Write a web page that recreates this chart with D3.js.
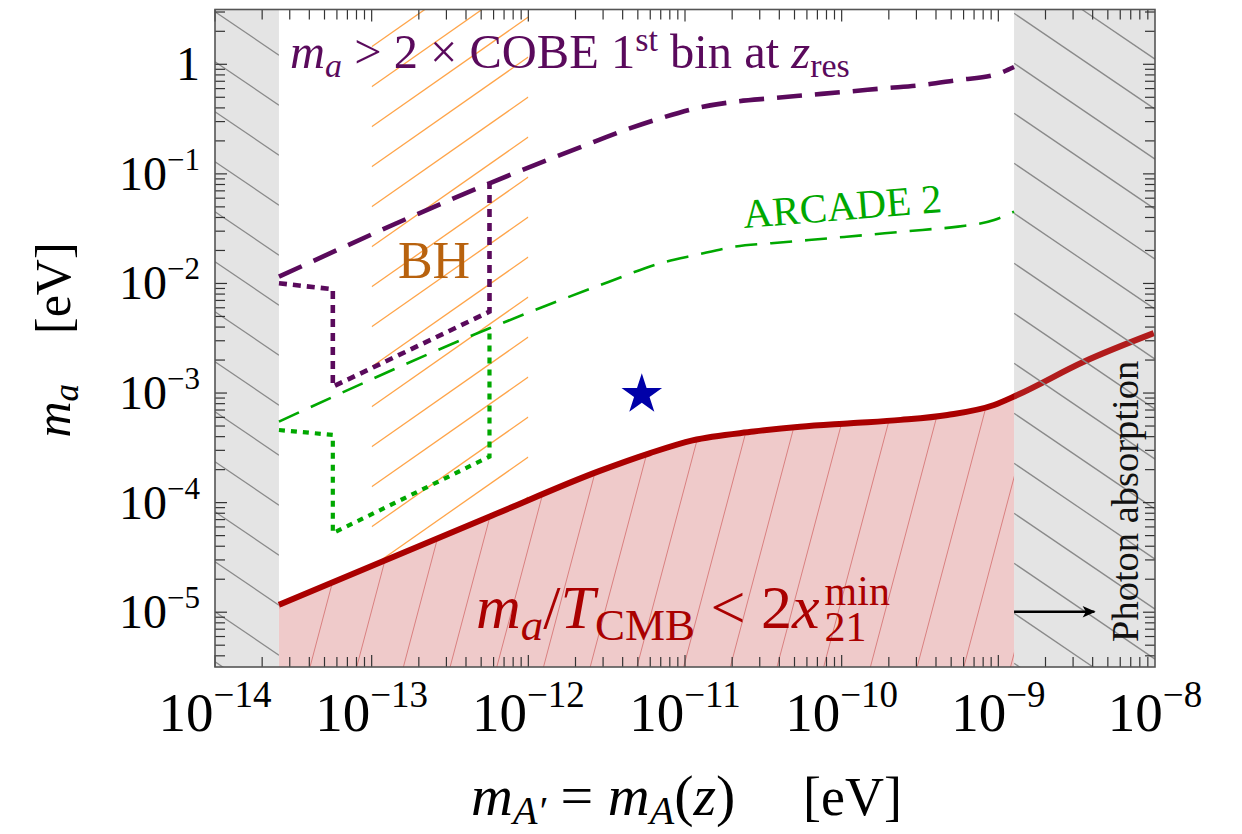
<!DOCTYPE html>
<html><head><meta charset="utf-8">
<script src="https://cdn.jsdelivr.net/npm/d3@7"></script>
<style>
body{margin:0;background:#fff}
svg{display:block}
text{font-family:"Liberation Serif","Times New Roman",serif}
</style>
</head><body>
<svg id="c" width="1242" height="834"></svg>
<script>
// ---------------- data ----------------
const xTickExps = [-14, -13, -12, -11, -10, -9, -8];
const yTickExps = [0, -1, -2, -3, -4, -5];
const excludedLowX = 2.56e-14;   // left excluded band edge
const excludedHighX = 1.26e-9;   // photon absorption edge
const bhRangeX = [1e-13, 1e-12]; // BH hatched band

const cobeX = [2.56e-14, 5.65e-13, 2.83e-12, 3.89e-12, 6.93e-12, 1.175e-11, 2.10e-11, 3.56e-11, 6.19e-11, 1.076e-10, 1.88e-10, 3.27e-10, 5.53e-10, 9.40e-10, 1.26e-9];
const cobeY = [1.153e-2, 8.20e-2, 0.204, 0.243, 0.321, 0.397, 0.456, 0.490, 0.525, 0.562, 0.604, 0.647, 0.719, 0.798, 0.944];

const cobeBhX = [2.56e-14, 5.65e-14, 5.65e-14, 5.65e-13, 5.65e-13];
const cobeBhY = [1.005e-2, 8.85e-3, 1.143e-3, 5.53e-3, 8.20e-2];

const arcadeX = [2.56e-14, 5.65e-13, 3.28e-12, 6.93e-12, 1.175e-11, 2.10e-11, 3.56e-11, 6.17e-11, 1.076e-10, 1.88e-10, 3.27e-10, 5.53e-10, 9.40e-10, 1.26e-9];
const arcadeY = [5.48e-4, 3.90e-3, 1.037e-2, 1.528e-2, 1.82e-2, 2.17e-2, 2.33e-2, 2.49e-2, 2.67e-2, 2.87e-2, 3.08e-2, 3.30e-2, 3.79e-2, 4.52e-2];

const arcadeBhX = [2.56e-14, 5.65e-14, 5.65e-14, 5.65e-13, 5.65e-13];
const arcadeBhY = [4.60e-4, 4.15e-4, 5.26e-5, 2.63e-4, 3.90e-3];

const cmbX = [2.56e-14, 5.93e-13, 2.83e-12, 5.93e-12, 1.117e-11, 2.74e-11, 5.43e-11, 1.138e-10, 2.38e-10, 4.73e-10, 9.40e-10, 1.32e-9, 3.51e-9, 9.82e-9];
const cmbY = [1.167e-5, 7.67e-5, 1.94e-4, 2.82e-4, 3.70e-4, 4.45e-4, 4.93e-4, 5.30e-4, 5.69e-4, 6.31e-4, 7.78e-4, 9.59e-4, 1.93e-3, 3.52e-3];

const starX = [5.3e-12];
const starY = [9.7e-4];

const arrowX = [1.26e-9, 4.1e-9];
const arrowY = [1.01e-5, 1.01e-5];

// ---------------- layout ----------------
const L = 215, R = 1155, T = 9.5, B = 667;
const x = d3.scaleLog().domain([1e-14, 1e-8]).range([L, R]);
const y = d3.scaleLog().domain([Math.pow(10, -5.5), Math.pow(10, 0.5)]).range([B, T]);
const zip = (a, b) => a.map((v, i) => [v, b[i]]);

const svg = d3.select("#c");
const defs = svg.append("defs");
function clipRect(id, x0, y0, x1, y1) {
  defs.append("clipPath").attr("id", id).append("rect")
    .attr("x", x0).attr("y", y0).attr("width", x1 - x0).attr("height", y1 - y0);
}
function clipPathD(id, d) {
  defs.append("clipPath").attr("id", id).append("path").attr("d", d);
}

const lineSmooth = d3.line().x(d => x(d[0])).y(d => y(d[1])).curve(d3.curveMonotoneX);
const lineStraight = d3.line().x(d => x(d[0])).y(d => y(d[1]));
const cmbPts = zip(cmbX, cmbY);

function hatchH(g, x0, x1, y0, y1, ax, ay, slope, sp, color, w) {
  const span = Math.abs(slope) * (x1 - x0) + sp;
  const kMin = Math.floor((y0 - span - ay) / sp), kMax = Math.ceil((y1 + span - ay) / sp);
  for (let k = kMin; k <= kMax; k++) {
    const yy = ay + k * sp;
    g.append("line").attr("x1", x0).attr("y1", yy + slope * (x0 - ax))
      .attr("x2", x1).attr("y2", yy + slope * (x1 - ax))
      .attr("stroke", color).attr("stroke-width", w);
  }
}
function hatchV(g, x0, x1, y0, y1, ax, ay, dxPerUp, sp, color, w) {
  const span = Math.abs(dxPerUp) * (y1 - y0) + sp;
  const kMin = Math.floor((x0 - span - ax) / sp), kMax = Math.ceil((x1 + span - ax) / sp);
  for (let k = kMin; k <= kMax; k++) {
    const xx = ax + k * sp;
    g.append("line").attr("x1", xx + dxPerUp * (ay - y1)).attr("y1", y1)
      .attr("x2", xx + dxPerUp * (ay - y0)).attr("y2", y0)
      .attr("stroke", color).attr("stroke-width", w);
  }
}

// ---------------- excluded gray bands ----------------
const xl = x(excludedLowX), xh = x(excludedHighX);
clipRect("clipLeft", L, T, xl, B);
clipRect("clipRight", xh, T, R, B);
svg.append("rect").attr("x", L).attr("y", T).attr("width", xl - L).attr("height", B - T).attr("fill", "#e4e4e4");
svg.append("rect").attr("x", xh).attr("y", T).attr("width", R - xh).attr("height", B - T).attr("fill", "#e4e4e4");
hatchH(svg.append("g").attr("clip-path", "url(#clipLeft)"), L, xl, T, B, L, 11.7, 0.68, 50, "#8a8a8a", 1.3);

// ---------------- pink CMB region ----------------
clipRect("clipMid", xl, T, xh, B);
const areaBelow = d3.area().x(d => x(d[0])).y0(B).y1(d => y(d[1])).curve(d3.curveMonotoneX);
const areaAbove = d3.area().x(d => x(d[0])).y0(T).y1(d => y(d[1])).curve(d3.curveMonotoneX);
clipPathD("clipBelow", areaBelow(cmbPts));
clipPathD("clipAbove", areaAbove(cmbPts));
const gMid = svg.append("g").attr("clip-path", "url(#clipMid)");
gMid.append("path").attr("d", areaBelow(cmbPts)).attr("fill", "#efcaca");
hatchV(gMid.append("g").attr("clip-path", "url(#clipBelow)"), xl, xh, T, B, 310, B, 0.265, 46.7, "#d98080", 1.0);

// ---------------- BH orange hatch ----------------
clipRect("clipBH", x(bhRangeX[0]), T, x(bhRangeX[1]), B);
const gBH = svg.append("g").attr("clip-path", "url(#clipBH)").append("g").attr("clip-path", "url(#clipAbove)");
hatchH(gBH, x(bhRangeX[0]), x(bhRangeX[1]), T, B, x(bhRangeX[0]), 6.7, -0.70, 40, "#ffa54a", 1.3);

// ---------------- curves ----------------
svg.append("path").attr("d", lineSmooth(zip(arcadeX, arcadeY))).attr("fill", "none")
  .attr("stroke", "#00a800").attr("stroke-width", 2.6).attr("stroke-dasharray", "22 13");
svg.append("path").attr("d", lineStraight(zip(arcadeBhX, arcadeBhY))).attr("fill", "none")
  .attr("stroke", "#00a800").attr("stroke-width", 4.2).attr("stroke-dasharray", "6 6");
svg.append("path").attr("d", lineSmooth(zip(cobeX, cobeY))).attr("fill", "none")
  .attr("stroke", "#5a0a5c").attr("stroke-width", 4.6).attr("stroke-dasharray", "25 13");
svg.append("path").attr("d", lineStraight(zip(cobeBhX, cobeBhY))).attr("fill", "none")
  .attr("stroke", "#5a0a5c").attr("stroke-width", 4.6).attr("stroke-dasharray", "8 6");
svg.append("path").attr("d", lineSmooth(cmbPts)).attr("fill", "none")
  .attr("stroke", "#aa0000").attr("stroke-width", 6).attr("stroke-linejoin", "round");

// right band hatch drawn over the red line
const gR = svg.append("g").attr("clip-path", "url(#clipRight)");
gR.append("rect").attr("x", xh).attr("y", T).attr("width", R - xh).attr("height", B - T).attr("fill", "#e4e4e4").attr("opacity", 0.12);
hatchH(gR, xh, R, T, B, xh, 13.3, 0.68, 50, "#8a8a8a", 1.3);

// star
svg.append("g").selectAll("path").data(zip(starX, starY)).join("path")
  .attr("transform", d => `translate(${x(d[0])},${y(d[1])})`)
  .attr("d", d3.symbol(d3.symbolStar).size(510)).attr("fill", "#0000a8");

// arrow
defs.append("marker").attr("id", "ah").attr("viewBox", "0 0 10 10").attr("refX", 9).attr("refY", 5)
  .attr("markerWidth", 8).attr("markerHeight", 5).attr("orient", "auto").attr("markerUnits", "strokeWidth")
  .append("path").attr("d", "M0,0.5 L10,5 L0,9.5 L2.5,5 Z").attr("fill", "#000");
svg.append("line").attr("x1", x(arrowX[0])).attr("y1", y(arrowY[0])).attr("x2", x(arrowX[1])).attr("y2", y(arrowY[1]))
  .attr("stroke", "#000").attr("stroke-width", 2.6).attr("marker-end", "url(#ah)");

// ---------------- frame & ticks ----------------
const gAx = svg.append("g");
const xMinor = [], yMinor = [];
for (let e = -14; e < -8; e++) for (let m = 1; m <= 9; m++) xMinor.push([m * Math.pow(10, e), m === 1]);
for (let e = -6; e <= 0; e++) for (let m = 1; m <= 9; m++) {
  const v = m * Math.pow(10, e);
  if (Math.log10(v) >= -5.5 && Math.log10(v) <= 0.5) yMinor.push([v, m === 1]);
}
xMinor.forEach(([v, maj]) => {
  const px = x(v), len = maj ? 12 : 10;
  gAx.append("line").attr("x1", px).attr("x2", px).attr("y1", B).attr("y2", B - len).attr("stroke", "#333").attr("stroke-width", 1.2);
  gAx.append("line").attr("x1", px).attr("x2", px).attr("y1", T).attr("y2", T + len).attr("stroke", "#333").attr("stroke-width", 1.2);
});
yMinor.forEach(([v, maj]) => {
  const py = y(v), len = maj ? 12 : 10;
  gAx.append("line").attr("y1", py).attr("y2", py).attr("x1", L).attr("x2", L + len).attr("stroke", "#333").attr("stroke-width", 1.2);
  gAx.append("line").attr("y1", py).attr("y2", py).attr("x1", R).attr("x2", R - len).attr("stroke", "#333").attr("stroke-width", 1.2);
});
gAx.append("rect").attr("x", L).attr("y", T).attr("width", R - L).attr("height", B - T)
  .attr("fill", "none").attr("stroke", "#555").attr("stroke-width", 1.6);

// tick labels
xTickExps.forEach(e => {
  const t = svg.append("text").attr("x", x(Math.pow(10, e))).attr("y", 731).attr("text-anchor", "middle")
    .attr("font-size", 55).attr("fill", "#000");
  t.append("tspan").text("10");
  t.append("tspan").attr("font-size", 37).attr("dy", -24).text("\u2212" + Math.abs(e));
});
yTickExps.forEach(e => {
  const t = svg.append("text").attr("x", 200).attr("y", y(Math.pow(10, e)) + 16).attr("text-anchor", "end")
    .attr("font-size", 48).attr("fill", "#000");
  if (e === 0) { t.text("1"); return; }
  t.append("tspan").text("10");
  t.append("tspan").attr("font-size", 31).attr("dy", -20).text("\u2212" + Math.abs(e));
});

// axis titles
const xt = svg.append("text").attr("x", 471).attr("y", 815).attr("font-size", 58).attr("fill", "#000");
xt.append("tspan").attr("font-style", "italic").text("m");
xt.append("tspan").attr("font-style", "italic").attr("font-size", 40).attr("dy", 9).text("A\u2032");
xt.append("tspan").attr("dy", -9).text(" = ");
xt.append("tspan").attr("font-style", "italic").text("m");
xt.append("tspan").attr("font-style", "italic").attr("font-size", 40).attr("dy", 9).text("A");
xt.append("tspan").attr("dy", -9).text("(");
xt.append("tspan").attr("font-style", "italic").text("z");
xt.append("tspan").text(")");
svg.append("text").attr("x", 803).attr("y", 815).attr("font-size", 54).attr("fill", "#000").text("[eV]");

const yt = svg.append("text").attr("transform", "translate(70,340) rotate(-90)").attr("text-anchor", "middle")
  .attr("font-size", 50).attr("fill", "#000");
yt.append("tspan").attr("font-style", "italic").text("m");
yt.append("tspan").attr("font-style", "italic").attr("font-size", 35).attr("dy", 8).text("a");
yt.append("tspan").attr("dy", -8).text("\u2002\u2002[eV]");

// ---------------- annotations ----------------
const pc = "#5a0a5c";
const t1 = svg.append("text").attr("x", 290).attr("y", 68).attr("font-size", 48.5).attr("fill", pc);
t1.append("tspan").attr("font-style", "italic").text("m");
t1.append("tspan").attr("font-style", "italic").attr("font-size", 34).attr("dy", 9).text("a");
t1.append("tspan").attr("dy", -9).text(" > 2 \u00d7 COBE 1");
t1.append("tspan").attr("font-size", 34).attr("dy", -17).text("st");
t1.append("tspan").attr("dy", 17).text(" bin at ");
t1.append("tspan").attr("font-style", "italic").text("z");
t1.append("tspan").attr("font-size", 34).attr("dy", 9).text("res");

svg.append("text").attr("x", 434).attr("y", 278).attr("text-anchor", "middle").attr("font-size", 52)
  .attr("fill", "#b8620e").text("BH");

svg.append("text").attr("transform", "translate(744,228) rotate(-4.6)").attr("font-size", 41)
  .attr("fill", "#00a800").text("ARCADE 2");

const rc = "#aa0000";
const t2 = svg.append("text").attr("x", 476).attr("y", 628).attr("font-size", 62).attr("fill", rc);
t2.append("tspan").attr("font-style", "italic").text("m");
t2.append("tspan").attr("font-style", "italic").attr("font-size", 45).attr("dy", 12).text("a");
t2.append("tspan").attr("dy", -12).text("/");
t2.append("tspan").attr("font-style", "italic").text("T");
t2.append("tspan").attr("font-size", 45).attr("dy", 12).text("CMB");
t2.append("tspan").attr("dy", -12).text(" < 2");
t2.append("tspan").attr("font-style", "italic").text("x");
const w2 = t2.node().getComputedTextLength();
svg.append("text").attr("x", 476 + w2 + 5).attr("y", 641).attr("font-size", 42).attr("fill", rc).text("21");
svg.append("text").attr("x", 476 + w2 + 5).attr("y", 605).attr("font-size", 42).attr("fill", rc).text("min");

svg.append("text").attr("transform", "translate(1138,642) rotate(-90)").attr("font-size", 38.5)
  .attr("fill", "#111").text("Photon absorption");
</script>
</body></html>
